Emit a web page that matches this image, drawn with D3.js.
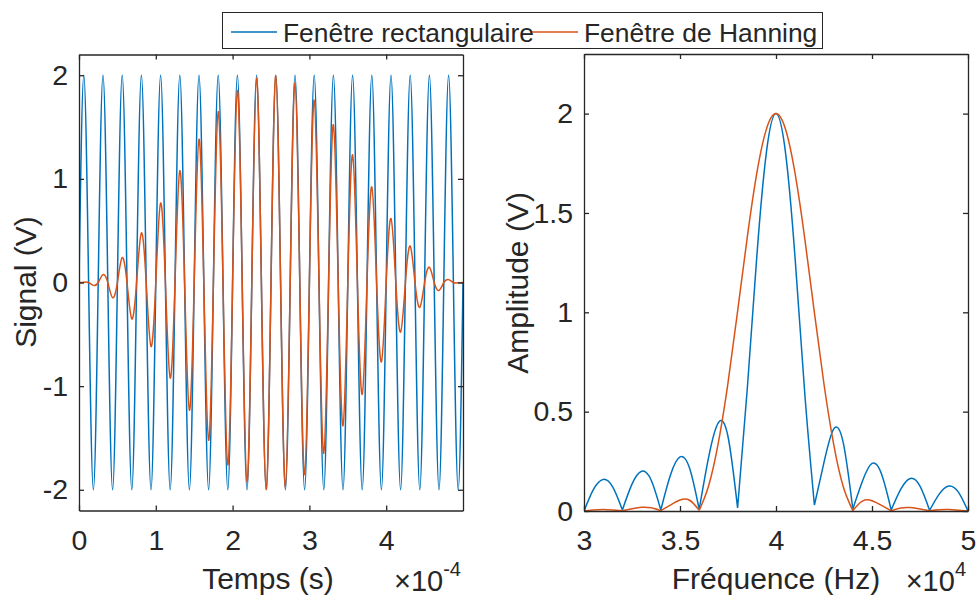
<!DOCTYPE html>
<html>
<head>
<meta charset="utf-8">
<script src="https://cdn.jsdelivr.net/npm/d3@7"></script>
<style>
  body { margin: 0; background: #fff; }
  svg text { font-family: "Liberation Sans", Arial, Helvetica, sans-serif; fill: #262626; }
</style>
</head>
<body>
<svg width="978" height="598"></svg>
<script>
// time signal, one sample every quarter period (s)
const timeStep = 6.25e-6;
const sigRect = [0, 2, 0, -2, 0, 2, 0, -2, 0, 2, 0, -2, 0, 2, 0, -2, 0, 2, 0, -2,
  0, 2, 0, -2, 0, 2, 0, -2, 0, 2, 0, -2, 0, 2, 0, -2, 0, 2, 0, -2,
  0, 2, 0, -2, 0, 2, 0, -2, 0, 2, 0, -2, 0, 2, 0, -2, 0, 2, 0, -2,
  0, 2, 0, -2, 0, 2, 0, -2, 0, 2, 0, -2, 0, 2, 0, -2, 0, 2, 0, -2, 0];
const sigHann = [0, 0.003, 0, -0.028, 0, 0.076, 0, -0.147, 0, 0.240, 0, -0.351, 0, 0.478, 0, -0.617,
  0, 0.767, 0, -0.922, 0, 1.079, 0, -1.233, 0, 1.383, 0, -1.523, 0, 1.649, 0, -1.760,
  0, 1.853, 0, -1.924, 0, 1.972, 0, -1.997, 0, 1.997, 0, -1.972, 0, 1.924, 0, -1.853,
  0, 1.760, 0, -1.649, 0, 1.523, 0, -1.383, 0, 1.233, 0, -1.079, 0, 0.922, 0, -0.767,
  0, 0.617, 0, -0.478, 0, 0.351, 0, -0.240, 0, 0.147, 0, -0.076, 0, 0.028, 0, -0.003, 0];

// amplitude spectrum, every 500 Hz from 30 kHz
const freqStart = 30000;
const freqStep = 500;
const specRect = [0, 0.11, 0.159, 0.12, 0.005, 0.135, 0.20, 0.155, 0.005, 0.18, 0.272, 0.215,
  0.008, 0.275, 0.445, 0.375, 0.015, 0.61, 1.28, 1.805, 2.0, 1.80, 1.265, 0.59,
  0.03, 0.245, 0.412, 0.345, 0.01, 0.15, 0.24, 0.185, 0.005, 0.11, 0.164, 0.125,
  0.003, 0.085, 0.126, 0.095, 0];
const specHann = [0, 0.005, 0.008, 0.005, 0.001, 0.011, 0.019, 0.016, 0.002, 0.03, 0.055, 0.054,
  0.003, 0.13, 0.345, 0.645, 1.005, 1.375, 1.70, 1.922, 2.0, 1.92, 1.695, 1.37,
  0.998, 0.638, 0.338, 0.123, 0.002, 0.05, 0.052, 0.028, 0.001, 0.015, 0.017, 0.01,
  0.001, 0.006, 0.007, 0.004, 0];

const timeTicks = [0, 1e-4, 2e-4, 3e-4, 4e-4];
const sigTicks = [-2, -1, 0, 1, 2];
const freqTicks = [30000, 35000, 40000, 45000, 50000];
const ampTicks = [0, 0.5, 1, 1.5, 2];
const seriesNames = ["Fenêtre rectangulaire", "Fenêtre de Hanning"];
const colors = ["#0072BD", "#D95319"];

const svg = d3.select("svg");
const axisColor = "#262626";

function frame(g, x, y, xTicks, yTicks, fx, fy) {
  const [x0, x1] = x.range(), [y0, y1] = y.range();
  const bottom = g.append("g").attr("transform", `translate(0,${y0})`)
    .call(d3.axisBottom(x).tickValues(xTicks).tickFormat(fx).tickSizeInner(-5).tickSizeOuter(0).tickPadding(19));
  const top = g.append("g").attr("transform", `translate(0,${y1})`)
    .call(d3.axisTop(x).tickValues(xTicks).tickFormat("").tickSizeInner(-5).tickSizeOuter(0));
  const left = g.append("g").attr("transform", `translate(${x0},0)`)
    .call(d3.axisLeft(y).tickValues(yTicks).tickFormat(fy).tickSizeInner(-5).tickSizeOuter(0).tickPadding(11));
  const right = g.append("g").attr("transform", `translate(${x1},0)`)
    .call(d3.axisRight(y).tickValues(yTicks).tickFormat("").tickSizeInner(-5).tickSizeOuter(0));
  [bottom, top, left, right].forEach(a => {
    a.selectAll("path, line").attr("stroke", axisColor).attr("stroke-width", 1.3);
    a.selectAll("text").attr("font-size", 28.5).attr("font-family", null).attr("fill", axisColor);
  });
}

function exponent(g, x, yPos, exp) {
  const t = g.append("text").attr("x", x).attr("y", yPos)
    .attr("text-anchor", "end").attr("font-size", 29);
  t.append("tspan").text("×10");
  t.append("tspan").attr("dy", -15).attr("font-size", 20).text(exp);
}

// ---- left: time signal
const xT = d3.scaleLinear().domain([0, 5e-4]).range([79, 463]);
const yT = d3.scaleLinear().domain([-2.2, 2.2]).range([510.5, 54.5]);
const gL = svg.append("g");
svg.append("clipPath").attr("id", "clipL").append("rect")
  .attr("x", 79).attr("y", 54.5).attr("width", 384).attr("height", 456);

const lineT = d3.line().x(d => xT(d[0])).y(d => yT(d[1])).curve(d3.curveNatural);
[sigRect, sigHann].forEach((s, k) => {
  gL.append("path")
    .attr("clip-path", "url(#clipL)")
    .attr("d", lineT(s.map((v, i) => [i * timeStep, v])))
    .attr("fill", "none").attr("stroke", colors[k]).attr("stroke-width", 1.5);
});
frame(gL, xT, yT, timeTicks, sigTicks, d => String(+(d / 1e-4).toFixed(3)), d => String(d));
gL.append("text").attr("x", 268).attr("y", 589).attr("text-anchor", "middle")
  .attr("font-size", 30).text("Temps (s)");
exponent(gL, 461, 591, "-4");
gL.append("text").attr("transform", "translate(36,282) rotate(-90)")
  .attr("text-anchor", "middle").attr("font-size", 30).text("Signal (V)");

// ---- right: spectrum
const xF = d3.scaleLinear().domain([30000, 50000]).range([584, 968]);
const yF = d3.scaleLinear().domain([0, 2.3]).range([511, 54]);
const gR = svg.append("g");
svg.append("clipPath").attr("id", "clipR").append("rect")
  .attr("x", 584).attr("y", 54).attr("width", 384).attr("height", 457);

// split each spectrum at its local minima so the lobes meet in cusps
function lobes(vals) {
  const cuts = [0];
  for (let i = 1; i < vals.length - 1; i++)
    if (vals[i] < vals[i - 1] && vals[i] < vals[i + 1]) cuts.push(i);
  cuts.push(vals.length - 1);
  return d3.pairs(cuts).map(([a, b]) =>
    d3.range(a, b + 1).map(i => [freqStart + i * freqStep, vals[i]]));
}
const lineF = d3.line().x(d => xF(d[0])).y(d => yF(Math.max(0, d[1]))).curve(d3.curveNatural);
[specRect, specHann].forEach((s, k) => {
  gR.append("path")
    .attr("clip-path", "url(#clipR)")
    .attr("d", lobes(s).map(l => lineF(l)).join(""))
    .attr("fill", "none").attr("stroke", colors[k]).attr("stroke-width", 1.5)
    .attr("stroke-linejoin", "round");
});
frame(gR, xF, yF, freqTicks, ampTicks, d => String(d / 1e4), d => String(d));
gR.append("text").attr("x", 776).attr("y", 589).attr("text-anchor", "middle")
  .attr("font-size", 30).text("Fréquence (Hz)");
exponent(gR, 966, 591, "4");
gR.append("text").attr("transform", "translate(528,283) rotate(-90)")
  .attr("text-anchor", "middle").attr("font-size", 30).text("Amplitude (V)");

// ---- legend
const leg = svg.append("g");
leg.append("rect").attr("x", 222.5).attr("y", 12.5).attr("width", 600).attr("height", 36)
  .attr("fill", "#fff").attr("stroke", axisColor).attr("stroke-width", 1);
const legX = [231, 532];
seriesNames.forEach((name, k) => {
  leg.append("line").attr("x1", legX[k]).attr("x2", legX[k] + 46).attr("y1", 32).attr("y2", 32)
    .attr("stroke", colors[k]).attr("stroke-width", 1.5);
  leg.append("text").attr("x", legX[k] + 52).attr("y", 42).attr("font-size", 26.4).text(name);
});
</script>
</body>
</html>
